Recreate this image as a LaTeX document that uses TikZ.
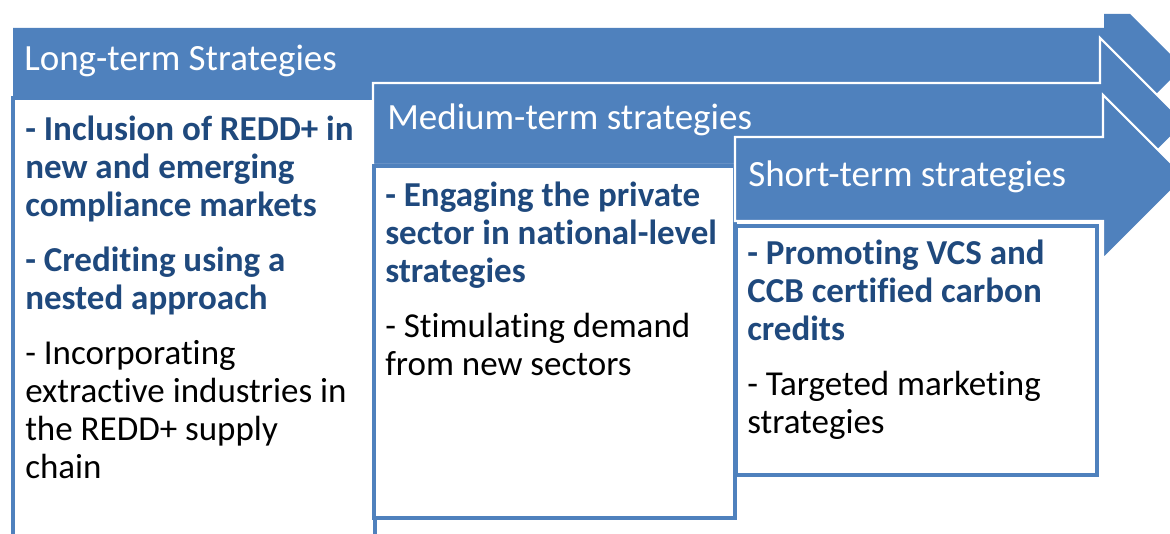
\documentclass[tikz,border=0pt]{standalone}
\usepackage{fontspec}
\setmainfont{Carlito}[Ligatures={NoCommon,NoRequired,NoContextual},Contextuals=NoAlternate]
\usepackage{tikz}
\usetikzlibrary{calc}
\definecolor{stratblue}{HTML}{4F81BD}
\definecolor{keyblue}{HTML}{1F497D}
\newcommand{\keyline}[1]{\textcolor{keyblue}{\bfseries #1}}

\begin{document}
\begin{tikzpicture}[x=0.75pt,y=-0.75pt,
  arrowbody/.style={fill=stratblue,draw=white,line width=1.6pt,line join=miter},
  listbox/.style={fill=white,draw=stratblue,line width=2.3pt},
  termtitle/.style={anchor=base west,inner sep=0pt,text=white,font=\fontsize{27.75}{33}\selectfont},
  itemlist/.style={anchor=north west,inner sep=0pt,align=left,font=\fontsize{26.25}{28.5}\selectfont}]

\useasboundingbox (0,0) rectangle (1170,534);

% long-term arrow and its list
\fill[stratblue] (13,28) -- (1104,28) -- (1104,14) -- (1130,14) -- (1183,67)
  -- (1130,120) -- (1104,120) -- (1104,106) -- (13,106) -- cycle;
\node[termtitle] (longtitle) at (24,71) {Long-term Strategies};
\draw[listbox] (13,98) rectangle (375,545);
\node[itemlist] (longlist) at (25,116)
  {\keyline{- Inclusion of REDD+ in}\\ \keyline{new and emerging}\\ \keyline{compliance markets}\\[12.75pt]
   \keyline{- Crediting using a}\\ \keyline{nested approach}\\[12.75pt]
   - Incorporating\\ extractive industries in\\ the REDD+ supply\\ chain};

% medium-term arrow and its list
\draw[arrowbody] (373,83) -- (1100,83) -- (1100,38) -- (1185,123) -- (1100,208)
  -- (1100,165) -- (373,165) -- cycle;
\node[termtitle] (medtitle) at (387,130) {Medium-term strategies};
\draw[listbox] (374,166) rectangle (735,518);
\node[itemlist] (medlist) at (385,182)
  {\keyline{- Engaging the private}\\ \keyline{sector in national-level}\\ \keyline{strategies}\\[12.75pt]
   - Stimulating demand\\ from new sectors};

% short-term arrow and its list
\draw[arrowbody] (735,137) -- (1103,137) -- (1103,95) -- (1185,177) -- (1103,259)
  -- (1103,221) -- (735,221) -- cycle;
\node[termtitle] (shorttitle) at (748,187) {Short-term strategies};
\draw[listbox] (736,226) rectangle (1097,475);
\node[itemlist] (shortlist) at (747,240)
  {\keyline{- Promoting VCS and}\\ \keyline{CCB certified carbon}\\ \keyline{credits}\\[12.75pt]
   - Targeted marketing\\ strategies};

\end{tikzpicture}
\end{document}
